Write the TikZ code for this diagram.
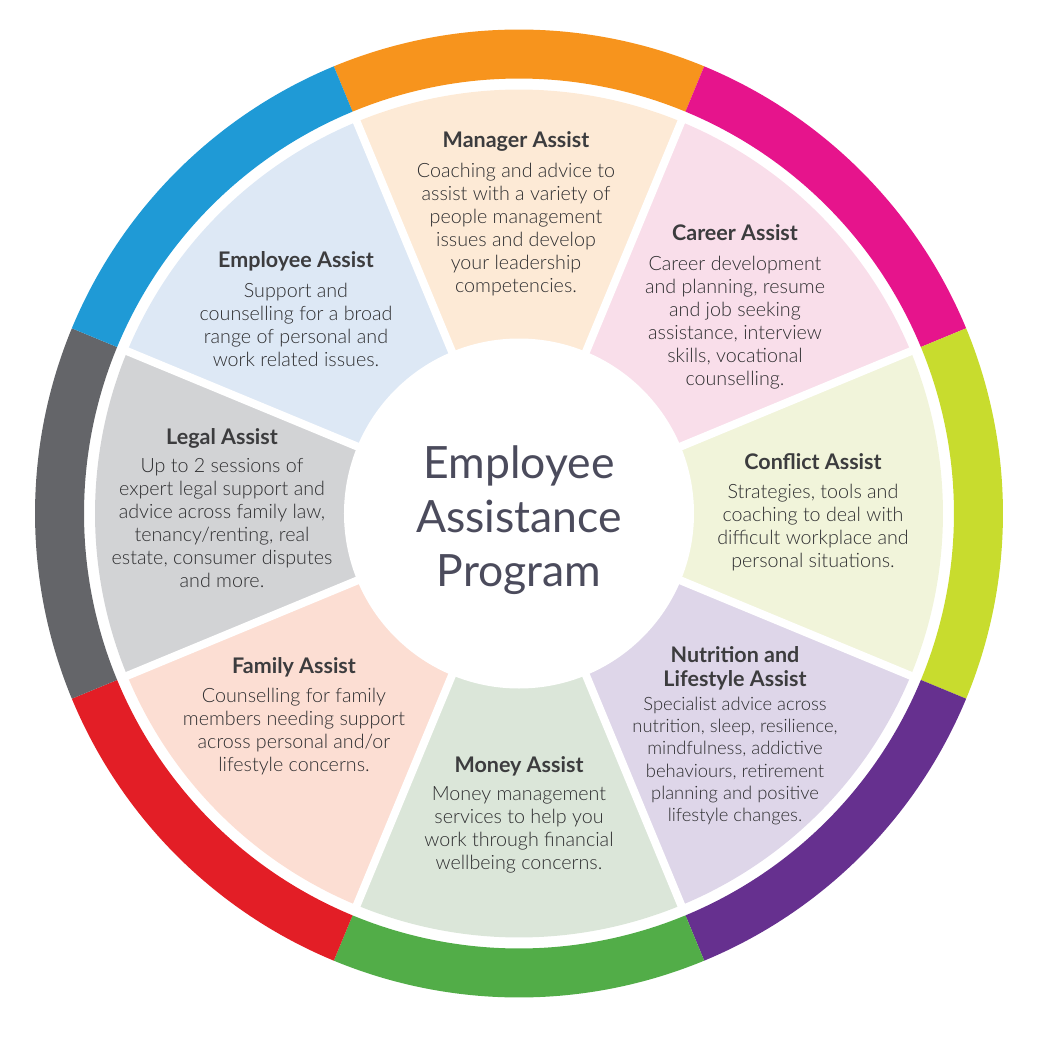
\documentclass[tikz,border=0pt]{standalone}
\usepackage{fontspec}
\setmainfont{Lato}
\newfontfamily\latolight{Lato Light}
\newfontfamily\latobold{Lato Bold}
\usepackage{xcolor}
\usetikzlibrary{positioning}

\definecolor{mgrC}{HTML}{F7941D}
\definecolor{carC}{HTML}{E6148C}
\definecolor{conC}{HTML}{C8DC2E}
\definecolor{nutC}{HTML}{66308F}
\definecolor{monC}{HTML}{52AD48}
\definecolor{famC}{HTML}{E31E26}
\definecolor{legC}{HTML}{646569}
\definecolor{empC}{HTML}{1F9AD6}
\definecolor{mgrP}{HTML}{FDEAD6}
\definecolor{carP}{HTML}{F9DEEA}
\definecolor{conP}{HTML}{F1F4DA}
\definecolor{nutP}{HTML}{DED6E9}
\definecolor{monP}{HTML}{DBE6D9}
\definecolor{famP}{HTML}{FCDED3}
\definecolor{legP}{HTML}{D2D3D5}
\definecolor{empP}{HTML}{DDE8F5}
\definecolor{ttl}{HTML}{3C3C3E}
\definecolor{txt}{HTML}{2E2E30}
\definecolor{hub}{HTML}{4B4B5C}

\begin{document}
\begin{tikzpicture}[x=1pt, y=1pt,
  hd/.style={font=\latobold\fontsize{21.5}{24}\selectfont, text=ttl,
             inner sep=0pt, align=center},
  bd/.style={font=\latolight\fontsize{19.7}{23}\selectfont, text=txt,
             inner sep=0pt, align=center},
  mid/.style={font=\fontsize{44.5}{54}\selectfont, text=hub,
             inner sep=0pt, align=center},
  gap/.style={white, line width=8pt},
]
\useasboundingbox (-519,-528.5) rectangle (523,513.5);

% ring and sectors
\foreach \a/\rc/\pc in {90/mgrC/mgrP, 45/carC/carP, 0/conC/conP,
    -45/nutC/nutP, -90/monC/monP, -135/famC/famP, 180/legC/legP,
    135/empC/empP} {
  \fill[\rc] ({\a-22.5}:484) arc[start angle=\a-22.5, end angle=\a+22.5, radius=484]
    -- ({\a+22.5}:435) arc[start angle=\a+22.5, end angle=\a-22.5, radius=435] -- cycle;
  \fill[\pc] ({\a-22.5}:150) -- ({\a-22.5}:424)
    arc[start angle=\a-22.5, end angle=\a+22.5, radius=424] -- ({\a+22.5}:150) -- cycle;
}
\foreach \b in {22.5,67.5,...,337.5}
  \draw[gap] (0,0) -- (\b:430);
\fill[white] (0,0) circle[radius=175];

\node[mid] (eap) at (0,-6.5) {Employee\\Assistance\\Program};

\node[hd, anchor=base] (mgrT) at (-3,365.5) {Manager Assist};
\node[bd, below=14.5pt of mgrT.base] (mgrB) {Coaching and advice to\\assist with a variety of\\people management\\issues and develop\\your leadership\\competencies.};

\node[hd, anchor=base] (carT) at (216,272.5) {Career Assist};
\node[bd, below=14.5pt of carT.base] (carB) {Career development\\and planning, resume\\and job seeking\\assistance, interview\\skills, vocational\\counselling.};

\node[hd, anchor=base] (conT) at (294,44.5) {Conflict Assist};
\node[bd, below=14.5pt of conT.base] (conB) {Strategies, tools and\\coaching to deal with\\difficult workplace and\\personal situations.};

\node[hd, anchor=north] (nutT) at (216,-132.5) {Nutrition and\\Lifestyle Assist};
\node[bd, below=7pt of nutT.south, font=\latolight\fontsize{18.4}{22.2}\selectfont] (nutB) {Specialist advice across\\nutrition, sleep, resilience,\\mindfulness, addictive\\behaviours, retirement\\planning and positive\\lifestyle changes.};

\node[hd, anchor=base] (monT) at (0,-258.5) {Money Assist};
\node[bd, below=14.5pt of monT.base] (monB) {Money management\\services to help you\\work through financial\\wellbeing concerns.};

\node[hd, anchor=base] (famT) at (-225,-159.5) {Family Assist};
\node[bd, below=14.5pt of famT.base] (famB) {Counselling for family\\members needing support\\across personal and/or\\lifestyle concerns.};

\node[hd, anchor=base] (legT) at (-297,69.5) {Legal Assist};
\node[bd, below=14.5pt of legT.base] (legB) {Up to 2 sessions of\\expert legal support and\\advice across family law,\\tenancy/renting, real\\estate, consumer disputes\\and more.};

\node[hd, anchor=base] (empT) at (-223,245.5) {Employee Assist};
\node[bd, below=14.5pt of empT.base] (empB) {Support and\\counselling for a broad\\range of personal and\\work related issues.};
\end{tikzpicture}
\end{document}
